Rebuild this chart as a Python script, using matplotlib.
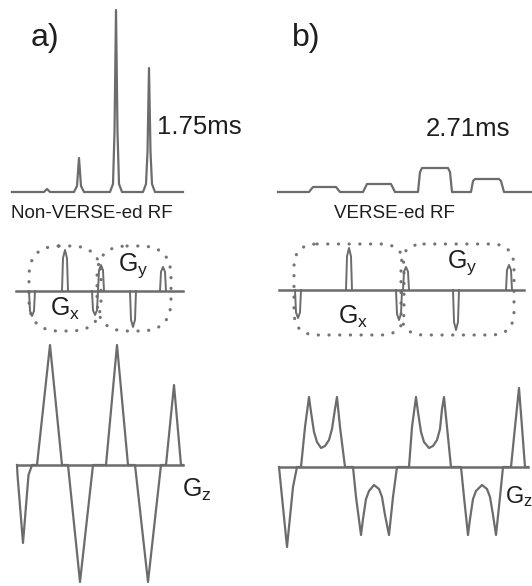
import matplotlib.pyplot as plt
from matplotlib.patches import FancyBboxPatch

plt.rcParams['font.family'] = ['Liberation Sans', 'DejaVu Sans']
plt.rcParams['mathtext.default'] = 'regular'

# RF envelopes: (time, amplitude) samples, amplitude positive upwards
rf_a_t = [0, 32, 35, 38, 62, 65, 67, 69, 72, 98, 101, 102.5, 104, 105.5, 107, 110,
          131, 134, 135.5, 137, 138.5, 140, 143, 171]
rf_a_amp = [0, 0, 3, 0, 0, 6, 34, 6, 0, 0, 8, 60, 182, 60, 8, 0,
            0, 8, 40, 124, 40, 8, 0, 0]

rf_b_t = [0, 31, 35, 58, 62, 85, 89, 113, 117, 140, 142, 144, 170, 172, 174,
          193, 195, 197, 221, 223, 226, 254]
rf_b_amp = [0, 0, 5, 5, 0, 0, 8, 8, 0, 0, 20, 24, 24, 20, 0,
            0, 11, 13, 13, 11, 0, 0]

# Gx / Gy blips: (position, amplitude)
gxy_a_pos = [32, 65, 95, 101, 133, 163]
gxy_a_amp = [-25, 41, -24, 26, -36, 24]
gxy_b_pos = [298, 349, 399, 406, 456, 509]
gxy_b_amp = [-28, 42, -30, 23, -40, 25]

# Gz waveforms
gz_a_t = [17, 17.5, 23, 28.5, 32, 37, 50, 62, 68, 80, 93, 106, 117, 128, 135, 148, 161,
          166, 174, 181, 183]
gz_a_amp = [0, -10, -78, -10, 0, 0, 120, 0, 0, -117, 0, 0, 120, 0, 0, -117, 0,
            0, 80, 0, 0]

gz_b_t = [279, 281, 287, 293, 297, 301, 305, 309, 311, 314, 317, 321, 325, 329, 332, 335,
          337, 340, 345, 353, 356, 361, 363, 366, 369, 374, 379, 382, 385, 389, 393, 397,
          409, 412, 416, 418, 421, 424, 429, 433, 437, 440, 442, 444, 447, 451,
          461, 464, 468, 470, 473, 476, 482, 487, 490, 493, 496, 500, 503,
          511, 515, 519, 522, 525, 528]
gz_b_amp = [0, -20, -80, -20, 0, 0, 40, 70, 55, 35, 25, 19, 21, 27, 38, 58,
            70, 40, 0, 0, -30, -68, -52, -32, -24, -18, -22, -30, -48, -68, -30, 0,
            0, 40, 70, 55, 35, 25, 19, 21, 27, 38, 58, 70, 40, 0,
            0, -30, -68, -52, -32, -24, -18, -22, -30, -48, -68, -30, 0,
            0, 40, 79, 40, 0, 0]

line_c = '#6c6c6c'
text_c = '#1e1e1e'

fig = plt.figure(figsize=(5.32, 5.86), dpi=100)
ax = fig.add_axes([0, 0, 1, 1])
ax.set_xlim(0, 532)
ax.set_ylim(586, 0)
ax.axis('off')


def trace(x0, y0, t, amp, lw=1.6):
    ax.plot([x0 + v for v in t], [y0 - v for v in amp], color=line_c, lw=lw,
            solid_joinstyle='round')


def blips(y0, pos, amp, x_start, x_end):
    ax.plot([x_start, x_end], [y0, y0], color=line_c, lw=1.8)
    for p, a in zip(pos, amp):
        ax.plot([p - 3, p - 2, p, p + 2, p + 3],
                [y0, y0 - 0.8 * a, y0 - a, y0 - 0.8 * a, y0], color=line_c, lw=1.4)


def dotted_box(x1, y1, x2, y2, r):
    ax.add_patch(FancyBboxPatch((x1 + r, y1 + r), x2 - x1 - 2 * r, y2 - y1 - 2 * r,
                                boxstyle=f'round,pad={r},rounding_size={r}',
                                fill=False, ec='#747474', lw=2.3, ls=(0, (0.05, 3.3)),
                                capstyle='round'))


# RF pulses
trace(12, 192, rf_a_t, rf_a_amp)
trace(278, 192, rf_b_t, rf_b_amp)

# Gx / Gy
blips(291, gxy_a_pos, gxy_a_amp, 16, 183)
blips(290, gxy_b_pos, gxy_b_amp, 279, 524)
dotted_box(29, 246, 101, 331, 30)
dotted_box(97, 246, 171, 331, 30)
dotted_box(294, 244, 404, 335, 23)
dotted_box(401, 244, 514, 335, 23)

# Gz
ax.plot([17, 183], [465, 465], color=line_c, lw=1.8)
trace(0, 465, gz_a_t, gz_a_amp)
ax.plot([279, 528], [467, 467], color=line_c, lw=1.8)
trace(0, 467, gz_b_t, gz_b_amp)

# labels
ax.text(31, 38, 'a)', fontsize=23, color=text_c, va='center', ha='left')
ax.text(292, 38, 'b)', fontsize=23, color=text_c, va='center', ha='left')
ax.text(157, 127, '1.75ms', fontsize=18.5, color=text_c, va='center', ha='left')
ax.text(468, 129, '2.71ms', fontsize=18.5, color=text_c, va='center', ha='center')
ax.text(92, 213, 'Non-VERSE-ed RF', fontsize=13.5, color=text_c, va='center', ha='center')
ax.text(394, 213, 'VERSE-ed RF', fontsize=13.5, color=text_c, va='center', ha='center')
ax.text(65, 309, 'G$_x$', fontsize=18, color=text_c, va='center', ha='center')
ax.text(133, 266, 'G$_y$', fontsize=18, color=text_c, va='center', ha='center')
ax.text(353, 317, 'G$_x$', fontsize=18, color=text_c, va='center', ha='center')
ax.text(462, 263, 'G$_y$', fontsize=18, color=text_c, va='center', ha='center')
ax.text(182, 490, 'G$_z$', fontsize=18, color=text_c, va='center', ha='left')
ax.text(505, 497, 'G$_z$', fontsize=17, color=text_c, va='center', ha='left')

fig.savefig('out.png', dpi=100)
